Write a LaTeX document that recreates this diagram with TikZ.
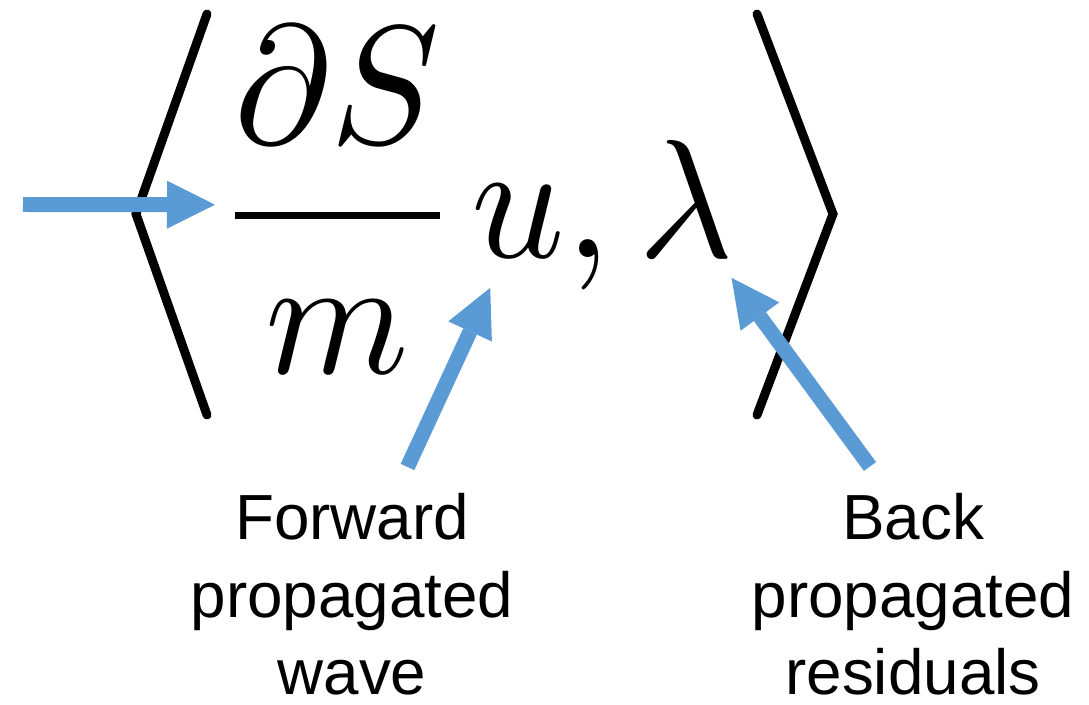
\documentclass[tikz,border=0pt]{standalone}
\usepackage{fontspec}
\usepackage{graphicx}
\usepackage{xcolor}
\usetikzlibrary{arrows.meta}

\newfontfamily\lblfont{Liberation Sans}
\definecolor{arrowblue}{RGB}{91,155,213}
\newcommand{\bigmath}[1]{\scalebox{9.3}[9.6]{$\displaystyle #1$}}

\begin{document}
\begin{tikzpicture}[
    x=0.02cm, y=-0.02cm,
    mathbig/.style={inner sep=0pt, anchor=base west},
    lbl/.style={font=\lblfont\fontsize{36.3}{44.2}\selectfont, align=center, inner sep=0pt, anchor=north},
    bracket/.style={line width=5.1pt, line cap=round, line join=miter},
    arr/.style={-{Triangle[length=0.96cm, width=0.96cm, line width=0pt]}, line width=0.3cm, draw=arrowblue},
  ]
  \useasboundingbox (0,0) rectangle (1089,705);

  % ===== the inner product =====
  \node[mathbig] (frac)  at (215,258)          {\bigmath{\frac{\partial S}{m}}};
  \node[mathbig] (u)     at ([xshift=6pt]frac.base east) {\bigmath{u}};
  \node[mathbig] (comma) at (u.base east)      {\bigmath{,}};
  \node[mathbig] (lam)   at ([xshift=15.5pt]comma.base east) {\bigmath{\lambda}};

  % angle brackets
  \draw[bracket] (207,14) -- (136,214) -- (207,415);
  \draw[bracket] (757,14) -- (833,214) -- (757,415);

  % ===== labels =====
  \node[lbl] (fwd)  at (352,493) {Forward\\propagated\\wave};
  \node[lbl] (back) at (913,493) {Back\\propagated\\residuals};

  % arrow ends
  \coordinate (intail) at (23,204.5);
  \coordinate (fwtail) at (407.5,467);
  \coordinate (bktail) at (870,466.5);
  \coordinate (fractip) at ([yshift=30.3pt]frac.base west);
  \coordinate (utip)    at ([shift={(11pt,-17pt)}]u.base west);
  \coordinate (lamtip)  at ([shift={(-1.7pt,-11.3pt)}]lam.base east);

  \draw[arr] (intail) -- (fractip);
  \draw[arr] (fwtail) -- (utip);
  \draw[arr] (bktail) -- (lamtip);

\end{tikzpicture}
\end{document}
